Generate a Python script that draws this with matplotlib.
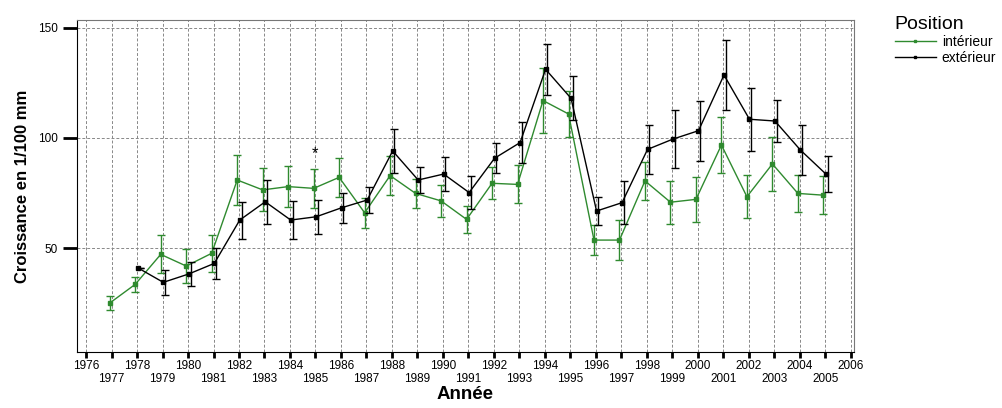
import matplotlib
matplotlib.use('Agg')
import matplotlib.pyplot as plt
from matplotlib.lines import Line2D

# data (mean +/- error bar half-length)
years_int = list(range(1977, 2006))
interieur = [25.0, 33.5, 47.1, 41.8, 47.6, 80.9, 76.4, 77.9, 77.1, 82.1,
             66.0, 82.9, 74.8, 71.4, 63.0, 79.4, 78.9, 117.0, 110.9, 53.6,
             53.6, 80.5, 70.8, 72.1, 96.8, 73.3, 88.2, 74.8, 74.0]
err_int = [3.0, 3.4, 8.6, 7.7, 8.5, 11.4, 9.8, 9.4, 8.9, 8.8,
           6.7, 8.7, 6.7, 7.1, 6.1, 7.3, 8.6, 14.8, 10.6, 6.7,
           9.1, 8.7, 9.8, 10.2, 12.9, 9.7, 12.1, 8.5, 8.5]

years_ext = list(range(1978, 2006))
exterieur = [41.0, 34.4, 38.2, 43.0, 62.7, 71.0, 62.7, 64.2, 68.3,
             71.8, 94.1, 80.9, 83.6, 75.2, 90.8, 97.9, 131.2, 118.0, 66.8,
             70.6, 94.8, 99.5, 103.3, 128.6, 108.5, 107.7, 94.5, 83.6]
err_ext = [0.0, 5.7, 5.4, 7.0, 8.4, 10.0, 8.6, 7.8, 6.8,
           5.7, 10.1, 5.9, 7.7, 7.3, 6.8, 9.2, 11.6, 10.0, 6.4,
           9.8, 11.0, 13.1, 13.6, 15.9, 14.2, 9.7, 11.4, 8.0]

tick_years = list(range(1976, 2007))
star_year, star_val = 1985, 92.7

GREEN = '#2f8a2f'
# small horizontal dodge, as in the original SPSS-style plot
DX_INT, DX_EXT, DX_EXT_BAR = -0.07, 0.03, 0.1

plt.rcParams['font.family'] = ['Liberation Sans', 'DejaVu Sans']

fig = plt.figure(figsize=(10.02, 4.08), dpi=100)
ax = fig.add_axes([0.077, 0.137, 0.775, 0.814])

xi = [y + DX_INT for y in years_int]
ax.errorbar(xi, interieur, yerr=err_int, color=GREEN, lw=1.0,
            marker='s', ms=2.5, capsize=3, elinewidth=1.0, capthick=1.0,
            zorder=3)
ax.plot([y + DX_EXT for y in years_ext], exterieur, color='black', lw=1.0,
        marker='s', ms=2.5, zorder=4)
ax.errorbar([y + DX_EXT_BAR for y in years_ext], exterieur, yerr=err_ext,
            fmt='none', ecolor='black', capsize=3, elinewidth=1.0,
            capthick=1.0, zorder=4)
ax.text(star_year, star_val, '*', ha='center', va='center', fontsize=12)

ax.set_xlim(1975.65, 2006.12)
ax.set_ylim(2.7, 153.6)
ax.set_yticks([50, 100, 150])
ax.set_xticks(tick_years)
ax.set_xticklabels([str(y) if y % 2 == 0 else '\n' + str(y) for y in tick_years],
                   fontsize=8.5, linespacing=1.05)
ax.tick_params(axis='y', labelsize=8.5, length=10, width=2, pad=4)
ax.tick_params(axis='x', length=4.5, width=2, pad=1.5)
ax.grid(True, ls=(0, (3, 2)), color='#888888', lw=0.7)
for s in ('top', 'right'):
    ax.spines[s].set_color('#777777')

ax.set_ylabel('Croissance en 1/100 mm', fontsize=12, fontweight='bold',
              labelpad=6)
ax.set_xlabel('Année', fontsize=13.5, fontweight='bold', labelpad=1)

handles = [Line2D([], [], color=GREEN, lw=1.0, marker='s', ms=2),
           Line2D([], [], color='black', lw=1.0, marker='s', ms=2)]
leg = fig.legend(handles, ['intérieur', 'extérieur'], title='Position',
                 loc='upper left', bbox_to_anchor=(0.890, 0.968),
                 frameon=False, fontsize=10, title_fontsize=14,
                 handlelength=3.0, handletextpad=0.4, numpoints=1,
                 labelspacing=0.15, borderpad=0.2, borderaxespad=0)
leg._legend_box.align = 'left'

fig.savefig('out.png', dpi=100)
